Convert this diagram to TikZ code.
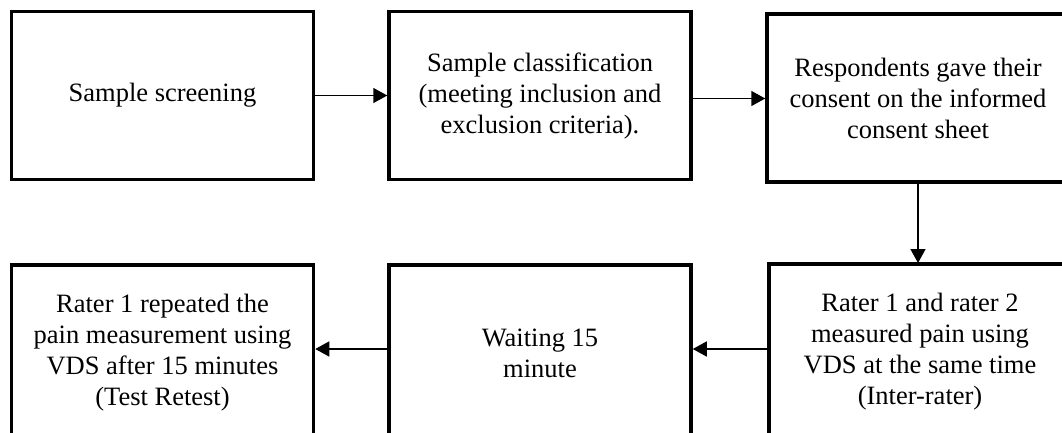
\documentclass[tikz,border=0pt]{standalone}
\usepackage{fontspec}
\setmainfont{Liberation Serif}
\usetikzlibrary{arrows.meta}
\begin{document}
\begin{tikzpicture}[x=1pt,y=-1pt,
  stepbox/.style={draw=black,line width=3.5pt,minimum width=302pt,minimum height=168pt,
    inner sep=0pt,align=center,font=\fontsize{26.5}{31}\selectfont},
  lowbox/.style={stepbox,minimum height=176pt},
  conn/.style={line width=1.5pt,-{Triangle[length=14pt,width=15pt]}}]
\useasboundingbox (0,0) rectangle (1062,432);
\clip (0,0) rectangle (1062,432);
\node[stepbox] (b1) at (162.5,95.5) {Sample screening};
\node[stepbox] (b2) at (540,95.5) {Sample classification\\(meeting inclusion and\\exclusion criteria).};
\node[stepbox] (b3) at (918,98) {Respondents gave their\\consent on the informed\\consent sheet};
\node[lowbox] (b6) at (920,352) {Rater 1 and rater 2\\measured pain using\\VDS at the same time\\(Inter-rater)};
\node[lowbox] (b5) at (540,353) {Waiting 15\\minute};
\node[lowbox] (b4) at (162.5,353) {Rater 1 repeated the\\pain measurement using\\VDS after 15 minutes\\(Test Retest)};
\draw[conn] (b1.east) -- (b1.east -| b2.west);
\draw[conn] (b2.east |- 0,98.5) -- (b3.west |- 0,98.5);
\draw[conn] (b3.south -| 918,0) -- (918,263);
\draw[conn] (b6.west |- 0,349) -- (b5.east |- 0,349);
\draw[conn] (b5.west |- 0,349) -- (b4.east |- 0,349);
\end{tikzpicture}
\end{document}
